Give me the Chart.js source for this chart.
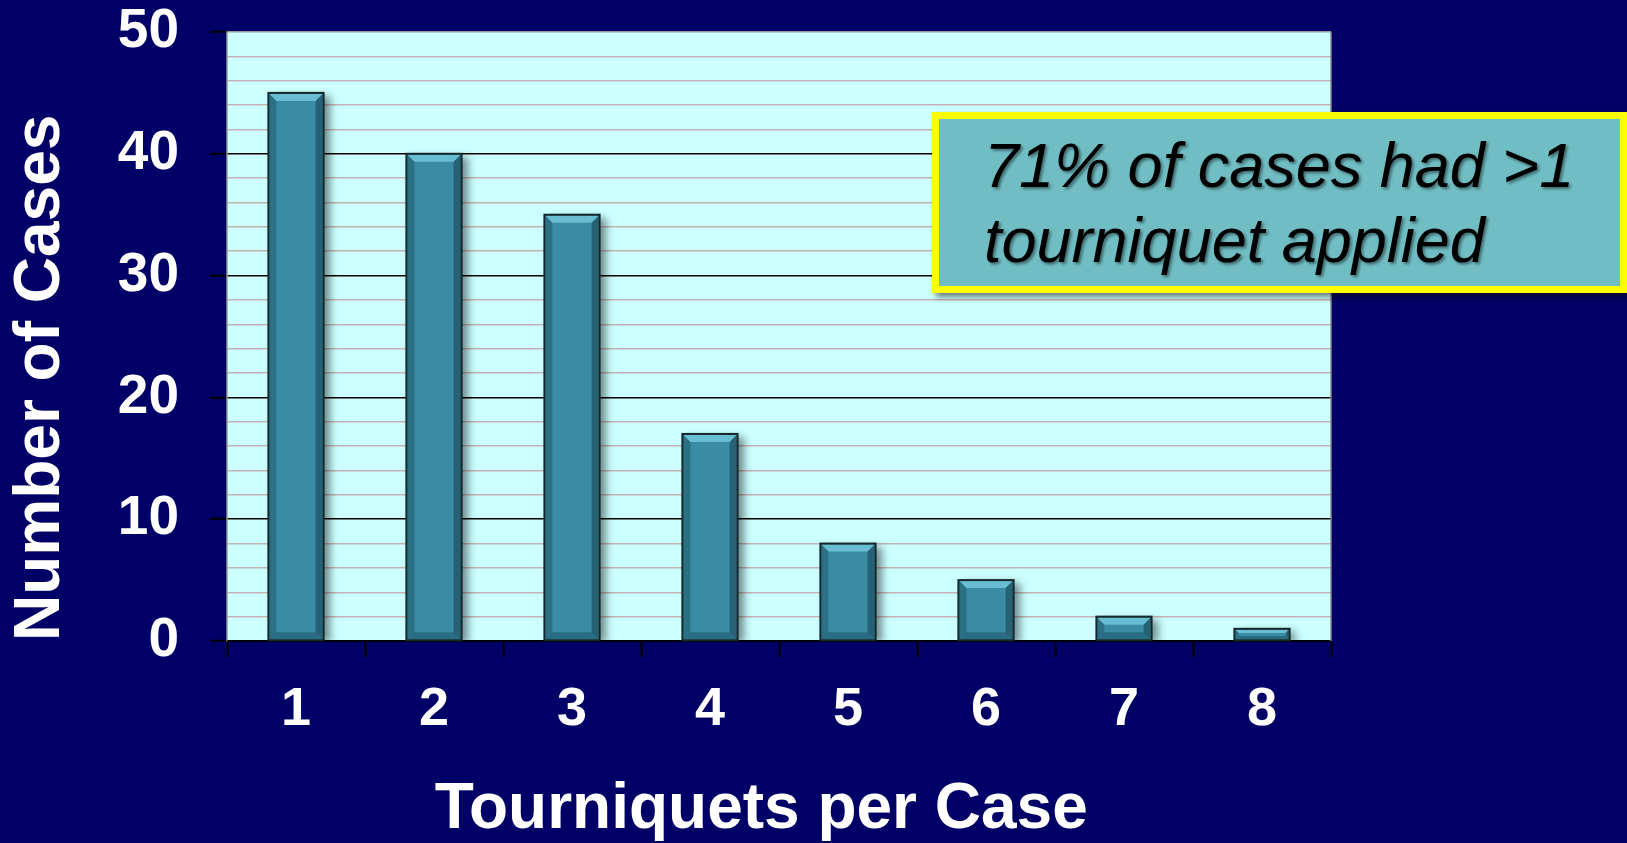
<!DOCTYPE html>
<html>
<head>
<meta charset="utf-8">
<script src="https://cdn.jsdelivr.net/npm/chart.js@4/dist/chart.umd.min.js"></script>
<style>
  html, body { margin: 0; padding: 0; background: #000066; }
  #wrap { width: 1627px; height: 843px; position: relative; }
  canvas { display: block; }
</style>
</head>
<body>
<div id="wrap"><canvas id="c" width="1627" height="843"></canvas></div>
<script>
// ---- data ----
const categories = ['1', '2', '3', '4', '5', '6', '7', '8'];
const cases = [45, 40, 35, 17, 8, 5, 2, 1];
const yTickValues = [0, 10, 20, 30, 40, 50];
const xTitle = 'Tourniquets per Case';
const yTitle = 'Number of Cases';
const noteLines = ['71% of cases had >1', 'tourniquet applied'];

const FONT = '"Liberation Sans", Arial, Helvetica, sans-serif';

const plotBg = {
  id: 'plotBg',
  beforeDraw(chart) {
    const { ctx, chartArea: a } = chart;
    ctx.save();
    ctx.fillStyle = '#ccffff';
    ctx.fillRect(a.left, a.top, a.right - a.left, a.bottom - a.top);
    ctx.restore();
  },
  afterDraw(chart) {
    const { ctx, chartArea: a } = chart;
    ctx.save();
    ctx.strokeStyle = '#8a8a8a';
    ctx.lineWidth = 1.5;
    ctx.beginPath();
    ctx.moveTo(a.right, a.top);
    ctx.lineTo(a.right, a.bottom);
    ctx.stroke();
    ctx.restore();
  }
};

const barShadow = {
  id: 'barShadow',
  beforeDatasetsDraw(chart) {
    const ctx = chart.ctx;
    ctx.save();
    ctx.shadowColor = 'rgba(0,0,0,0.45)';
    ctx.shadowBlur = 8;
    ctx.shadowOffsetX = 6;
    ctx.shadowOffsetY = 3;
  },
  afterDatasetsDraw(chart) {
    const ctx = chart.ctx;
    ctx.restore();
    const meta = chart.getDatasetMeta(0);
    meta.data.forEach(bar => {
      const { x, y, base, width } = bar.getProps(['x', 'y', 'base', 'width'], true);
      const l = x - width / 2 + 1, r = x + width / 2 - 1, t = y + 1, b = base - 1;
      const h = b - t;
      const bev = Math.min(7, h / 3);
      ctx.save();
      ctx.fillStyle = 'rgba(120,205,225,0.75)';
      ctx.beginPath();
      ctx.moveTo(l, t); ctx.lineTo(r, t); ctx.lineTo(r - bev, t + bev); ctx.lineTo(l + bev, t + bev);
      ctx.closePath(); ctx.fill();
      ctx.fillStyle = 'rgba(20,60,75,0.35)';
      ctx.beginPath();
      ctx.moveTo(l, t); ctx.lineTo(l + bev, t + bev); ctx.lineTo(l + bev, b - bev); ctx.lineTo(l, b);
      ctx.closePath(); ctx.fill();
      ctx.fillStyle = 'rgba(15,45,60,0.45)';
      ctx.beginPath();
      ctx.moveTo(r, t); ctx.lineTo(r - bev, t + bev); ctx.lineTo(r - bev, b - bev); ctx.lineTo(r, b);
      ctx.closePath(); ctx.fill();
      ctx.fillStyle = 'rgba(20,60,75,0.4)';
      ctx.beginPath();
      ctx.moveTo(l, b); ctx.lineTo(l + bev, b - bev); ctx.lineTo(r - bev, b - bev); ctx.lineTo(r, b);
      ctx.closePath(); ctx.fill();
      ctx.strokeStyle = '#14282c';
      ctx.lineWidth = 2;
      ctx.strokeRect(x - width / 2, y, width, base - y);
      ctx.restore();
    });
  }
};

const noteBox = {
  id: 'noteBox',
  afterDraw(chart) {
    const ctx = chart.ctx;
    const L = 932, T = 112, R = 1627, B = 293, bw = 7;
    ctx.save();
    ctx.shadowColor = 'rgba(0,0,0,0.5)';
    ctx.shadowBlur = 6;
    ctx.shadowOffsetX = 4;
    ctx.shadowOffsetY = 4;
    ctx.fillStyle = '#ffff00';
    ctx.fillRect(L, T, R - L, B - T);
    ctx.restore();
    ctx.save();
    ctx.fillStyle = '#70bec4';
    ctx.fillRect(L + bw, T + bw, R - L - 2 * bw, B - T - 2 * bw);
    ctx.font = 'italic 63px ' + FONT;
    ctx.fillStyle = '#000000';
    ctx.textBaseline = 'alphabetic';
    ctx.textAlign = 'left';
    ctx.shadowColor = 'rgba(0,0,0,0.45)';
    ctx.shadowBlur = 3;
    ctx.shadowOffsetX = 2;
    ctx.shadowOffsetY = 2;
    ctx.fillText(noteLines[0], 984, 187);
    ctx.fillText(noteLines[1], 984, 262);
    ctx.restore();
  }
};

new Chart(document.getElementById('c'), {
  type: 'bar',
  data: {
    labels: categories,
    datasets: [{
      data: cases,
      backgroundColor: '#3a8ca5',
      borderColor: '#14282c',
      borderWidth: 0,
      barPercentage: 0.4,
      categoryPercentage: 1.0
    }]
  },
  plugins: [plotBg, barShadow, noteBox],
  options: {
    responsive: false,
    animation: false,
    devicePixelRatio: 1,
    layout: { padding: { top: 32, right: 296, left: 0, bottom: 0 } },
    plugins: { legend: { display: false }, tooltip: { enabled: false } },
    scales: {
      x: {
        offset: true,
        grid: {
          offset: true,
          drawOnChartArea: false,
          drawTicks: true,
          tickLength: 16,
          tickColor: '#000000',
          tickWidth: 2
        },
        border: { display: true, color: '#000000', width: 2 },
        ticks: {
          color: '#ffffff',
          padding: 26,
          font: { family: FONT, size: 54, weight: 'bold', lineHeight: 1 }
        },
        title: {
          display: true,
          text: xTitle + '  ',
          color: '#ffffff',
          font: { family: FONT, size: 64, weight: 'bold', lineHeight: 1 },
          padding: { top: 0, bottom: 1 }
        },
        afterFit(scale) {
          scale.height = 202;
          scale.paddingLeft = 0;
          scale.paddingRight = 0;
        }
      },
      y: {
        min: 0,
        max: 50,
        ticks: {
          stepSize: 2,
          autoSkip: false,
          color: '#ffffff',
          padding: 31,
          font: { family: FONT, size: 55, weight: 'bold', lineHeight: 1 },
          callback: (v) => (yTickValues.includes(v) ? String(v) : '')
        },
        grid: {
          drawTicks: true,
          tickLength: 17,
          lineWidth: 1.5,
          color: (c) => {
            const v = c.tick ? c.tick.value : 0;
            if (v === 50) return '#9a9a9a';
            return v % 10 === 0 ? '#000000' : '#c3b3b3';
          },
          tickColor: (c) => (c.tick && c.tick.value % 10 === 0 ? '#000000' : 'rgba(0,0,0,0)'),
          tickWidth: 2
        },
        border: { display: true, color: '#707070', width: 1.5 },
        title: {
          display: true,
          text: yTitle,
          align: 'start',
          color: '#ffffff',
          font: { family: FONT, size: 64, weight: 'bold', lineHeight: 1 },
          padding: { top: 9, bottom: 0 }
        },
        afterFit(scale) {
          scale.width = 227;
          scale.paddingTop = 0;
          scale.paddingBottom = 0;
        }
      }
    }
  }
});
</script>
</body>
</html>
